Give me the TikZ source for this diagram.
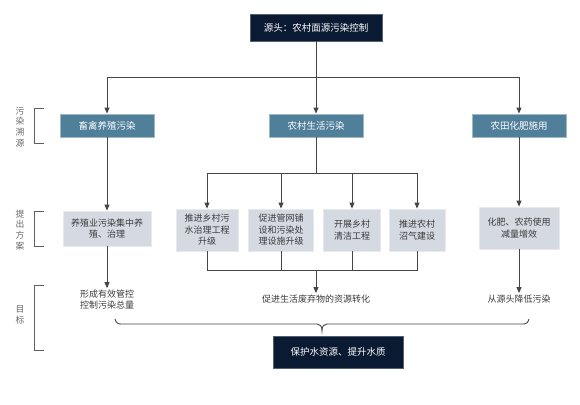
\documentclass[tikz,border=0pt]{standalone}
\usepackage{fontspec}
\setmainfont{Noto Sans CJK SC}
\usetikzlibrary{arrows.meta}
\definecolor{navy}{HTML}{0B1A33}
\definecolor{steel}{HTML}{4F7F99}
\definecolor{pale}{HTML}{D5DAE2}
\definecolor{linec}{HTML}{454545}
\definecolor{txt}{HTML}{3A3A3A}
\definecolor{lbl}{HTML}{6A6A6A}
\begin{document}
\begin{tikzpicture}[x=1pt,y=-1pt,
  darkbox/.style={fill=navy, draw=navy!70!white, line width=0.6pt, text=white, inner sep=0pt, font=\fontsize{9.5}{11}\selectfont},
  midbox/.style={fill=steel, draw=steel!55!white, line width=0.8pt, text=white, inner sep=0pt, minimum width=94pt, minimum height=23pt, font=\fontsize{9.5}{11}\selectfont},
  lowbox/.style={fill=pale, draw=pale!60!white, line width=0.8pt, text=txt, inner sep=0pt, align=center, font=\fontsize{9}{11.5}\selectfont},
  goal/.style={text=txt, inner sep=1.5pt, align=center, font=\fontsize{9}{11}\selectfont},
  side/.style={text=lbl, inner sep=0pt, align=center, font=\fontsize{8.8}{10.7}\selectfont},
  conn/.style={draw=linec, line width=0.9pt},
  arr/.style={conn, -{Triangle[length=6pt,width=5pt]}},
  bracket/.style={draw=lbl!90!black, line width=1pt}]
\useasboundingbox (0,0) rectangle (580,404);

% top
\node[darkbox, minimum width=132pt, minimum height=27pt] (top) at (316,27.5) {源头：农村面源污染控制};

% level 1
\node[midbox] (A) at (107,125.5) {畜禽养殖污染};
\node[midbox] (B) at (316,125.5) {农村生活污染};
\node[midbox] (C) at (519,125.5) {农田化肥施用};

% level 2
\node[lowbox, minimum width=88pt, minimum height=35pt] (A2) at (107,228.5) {养殖业污染集中养\\殖、治理};
\node[lowbox, minimum width=62pt, minimum height=42pt] (B1) at (207,230) {推进乡村污\\水治理工程\\升级};
\node[lowbox, minimum width=65pt, minimum height=42pt] (B2) at (281,230) {促进管网铺\\设和污染处\\理设施升级};
\node[lowbox, minimum width=57pt, minimum height=42pt] (B3) at (352,230) {开展乡村\\清洁工程};
\node[lowbox, minimum width=56pt, minimum height=42pt] (B4) at (417,230) {推进农村\\沼气建设};
\node[lowbox, minimum width=80pt, minimum height=42pt] (C2) at (519,228) {化肥、农药使用\\减量增效};

% goals
\node[goal] (T1) at (107,299.5) {形成有效管控\\控制污染总量};
\node[goal] (T2) at (316,299) {促进生活废弃物的资源转化};
\node[goal] (T3) at (519,299) {从源头降低污染};

% bottom
\node[darkbox, minimum width=130pt, minimum height=32pt] (bot) at (338,352) {保护水资源、提升水质};

% side labels and brackets
\node[side] (s1) at (20,127) {污\\染\\溯\\源};
\node[side] (s2) at (20,230) {提\\出\\方\\案};
\node[side] (s3) at (20,315) {目\\标};
\draw[bracket] (44,108) -- (34,108) -- (34,143) -- (44,143);
\draw[bracket] (44,211) -- (34,211) -- (34,246) -- (44,246);
\draw[bracket] (44,285) -- (34,285) -- (34,350) -- (44,350);

% connectors
\coordinate (j1) at (316,77);
\draw[conn] (top.south) -- (j1);
\draw[arr] (j1) -| (A.north);
\draw[arr] (j1) -- (B.north);
\draw[arr] (j1) -| (C.north);

\draw[arr] (A.south) -- (A2.north);
\draw[arr] (A2.south) -- (T1.north);

\coordinate (j2) at (316,173);
\draw[conn] (B.south) -- (j2);
\draw[arr] (j2) -| (B1.north);
\draw[arr] (j2) -| (B2.north);
\draw[arr] (j2) -| (B3.north);
\draw[arr] (j2) -| (B4.north);
\coordinate (j3) at (316,270);
\draw[conn] (B1.south) |- (j3);
\draw[conn] (B4.south) |- (j3);
\draw[conn] (B2.south) -- (B2.south |- j3);
\draw[conn] (B3.south) -- (B3.south |- j3);
\draw[arr] (j3) -- (T2.north);

\draw[arr] (C.south) -- (C2.north);
\draw[arr] (C2.south) -- (T3.north);

% brace
\draw[conn] (115,319) .. controls (116,322.5) and (117.5,324) .. (121,324)
  -- (317,324) .. controls (320,324) and (322,326) .. (322,331)
  .. controls (322,326) and (324,324) .. (327,324)
  -- (523,324) .. controls (526.5,324) and (528,322.5) .. (529,319);
\end{tikzpicture}
\end{document}
